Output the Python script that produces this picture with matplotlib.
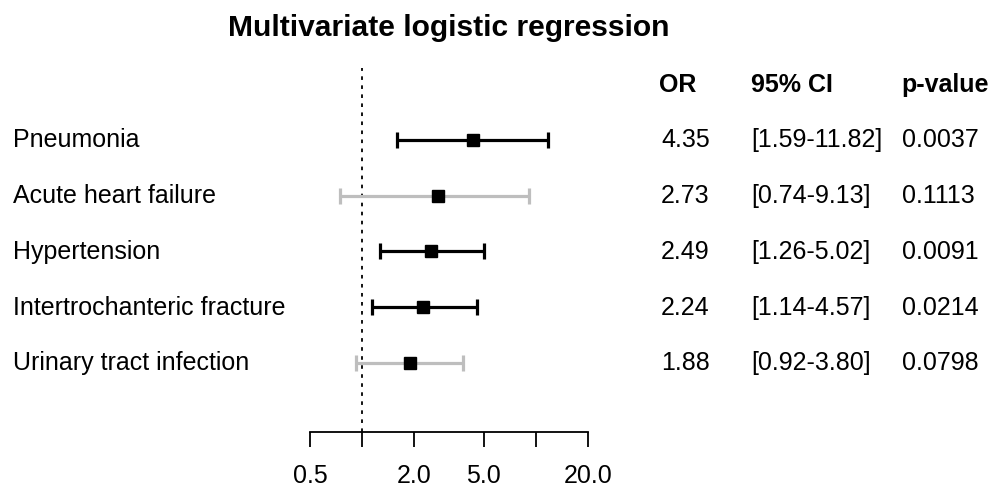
import matplotlib
matplotlib.use("Agg")
import matplotlib.pyplot as plt
from matplotlib.transforms import blended_transform_factory, ScaledTranslation

plt.rcParams['font.family'] = ['Liberation Sans', 'DejaVu Sans']

# Data
variables = ['Pneumonia', 'Acute heart failure', 'Hypertension',
             'Intertrochanteric fracture', 'Urinary tract infection']
odds_ratio = [4.35, 2.73, 2.49, 2.24, 1.88]
ci_low = [1.59, 0.74, 1.26, 1.14, 0.92]
ci_high = [11.82, 9.13, 5.02, 4.57, 3.80]
p_values = [0.0037, 0.1113, 0.0091, 0.0214, 0.0798]
tick_vals = [0.5, 1, 2, 5, 10, 20]
tick_labels = ['0.5', '', '2.0', '5.0', '', '20.0']

W, H = 991, 488
fig = plt.figure(figsize=(W / 100, H / 100), dpi=100)

# axes placed in pixel terms: x from 310 to 588, y from 68 to 432
ax = fig.add_axes([310 / W, 1 - 432 / H, (588 - 310) / W, (432 - 68) / H])
ax.set_xscale('log')
ax.set_xlim(0.5, 20)
ax.set_ylim(-0.24, 6.29)

n = len(variables)
ypos = list(range(n, 0, -1))

for y, orv, lo, hi, p in zip(ypos, odds_ratio, ci_low, ci_high, p_values):
    col = 'black' if p < 0.05 else '#BEBEBE'
    ax.errorbar(orv, y, xerr=[[orv - lo], [hi - orv]], fmt='none',
                ecolor=col, elinewidth=2.3, capsize=5.5, capthick=2.3, zorder=2)
    ax.plot(orv, y, marker='s', color='black', markersize=8.5, zorder=3)

ax.axvline(1, color='black', linestyle=(0, (2, 3)), linewidth=1.3, zorder=1)

for s in ['top', 'right', 'left']:
    ax.spines[s].set_visible(False)
ax.spines['bottom'].set_linewidth(1.3)
ax.set_yticks([])
ax.set_xticks(tick_vals)
ax.set_xticklabels(tick_labels)
ax.xaxis.set_minor_locator(matplotlib.ticker.NullLocator())
ax.tick_params(axis='x', length=11, width=1.3, labelsize=18, pad=12)

# text rows: baseline sits ~7.5 px below the row centre
tr = blended_transform_factory(fig.transFigure, ax.transData) + \
    ScaledTranslation(0, -7.5 / 100, fig.dpi_scale_trans)
header_y = ypos[0] + 1.0
fs = 18

for y, name, orv, lo, hi, p in zip(ypos, variables, odds_ratio, ci_low, ci_high, p_values):
    fig.text(13 / W, y, name, transform=tr, fontsize=fs, va='baseline', ha='left')
    fig.text(661 / W, y, f'{orv:.2f}', transform=tr, fontsize=fs, va='baseline', ha='left')
    fig.text(751 / W, y, f'[{lo:.2f}-{hi:.2f}]', transform=tr, fontsize=fs, va='baseline', ha='left')
    fig.text(902 / W, y, f'{p:.4f}', transform=tr, fontsize=fs, va='baseline', ha='left')

fig.text(659 / W, header_y, 'OR', transform=tr, fontsize=fs, fontweight='bold', va='baseline', ha='left')
fig.text(751 / W, header_y, '95% CI', transform=tr, fontsize=fs, fontweight='bold', va='baseline', ha='left')
fig.text(901 / W, header_y, 'p-value', transform=tr, fontsize=fs, fontweight='bold', va='baseline', ha='left')

fig.text(449 / W, 1 - 36 / H, 'Multivariate logistic regression', fontsize=21.6,
         fontweight='bold', ha='center', va='baseline')

fig.savefig('out.png', dpi=100)
